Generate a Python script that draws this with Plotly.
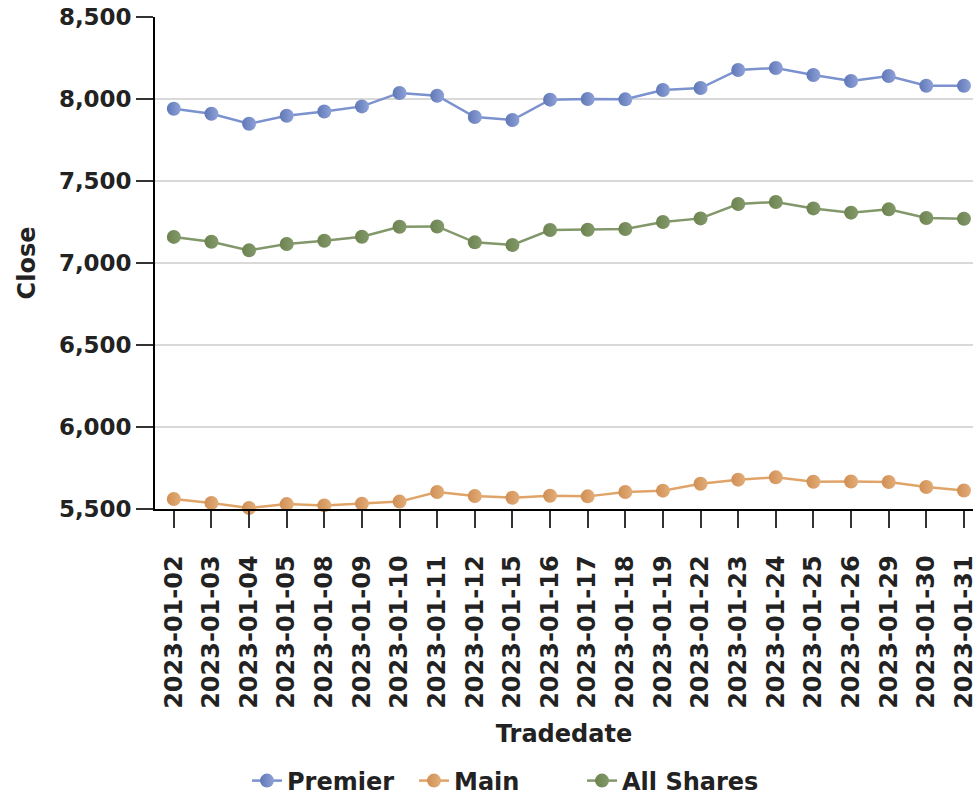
import plotly.graph_objects as go

dates = ["2023-01-02", "2023-01-03", "2023-01-04", "2023-01-05", "2023-01-08",
         "2023-01-09", "2023-01-10", "2023-01-11", "2023-01-12", "2023-01-15",
         "2023-01-16", "2023-01-17", "2023-01-18", "2023-01-19", "2023-01-22",
         "2023-01-23", "2023-01-24", "2023-01-25", "2023-01-26", "2023-01-29",
         "2023-01-30", "2023-01-31"]

premier = [7941, 7910, 7849, 7898, 7924, 7955, 8037, 8020, 7890, 7872, 7996,
           8000, 7998, 8055, 8067, 8177, 8189, 8146, 8110, 8140, 8081, 8081]
main = [5561, 5537, 5506, 5530, 5522, 5532, 5545, 5604, 5579, 5569, 5581,
        5577, 5604, 5612, 5654, 5679, 5693, 5666, 5668, 5665, 5634, 5613]
all_shares = [7159, 7130, 7077, 7116, 7136, 7160, 7221, 7223, 7126, 7110, 7201,
              7203, 7207, 7250, 7272, 7360, 7372, 7333, 7307, 7327, 7274, 7270]

y_ticks = [5500, 6000, 6500, 7000, 7500, 8000, 8500]
y_ticktext = ["5,500", "6,000", "6,500", "7,000", "7,500", "8,000", "8,500"]

series = [
    ("Premier", premier, "#7b92cf", "#6077b6", "#8ea2d8", "legend"),
    ("Main", main, "#e0a469", "#cf8f55", "#e3ad78", "legend2"),
    ("All Shares", all_shares, "#82976a", "#6c8350", "#83996a", "legend3"),
]

FONT = "DejaVu Sans"
TXT = "#222222"

fig = go.Figure()
for name, vals, lcol, mcol, gcol, leg in series:
    fig.add_trace(go.Scatter(
        x=dates, y=vals, name=name, mode="lines+markers",
        line=dict(color=lcol, width=2.5),
        marker=dict(size=14, color=mcol,
                    gradient=dict(type="horizontal", color=gcol)),
        cliponaxis=False, legend=leg,
    ))

W, H = 978, 799
leg_common = dict(orientation="h", xref="container", yref="container",
                  xanchor="left", y=1 - 781 / H, yanchor="middle",
                  font=dict(family=FONT, size=24, color=TXT, weight="bold"),
                  itemwidth=30, bgcolor="rgba(0,0,0,0)")

fig.update_layout(
    width=W, height=H,
    margin=dict(l=155, r=0, t=17, b=290),
    paper_bgcolor="white", plot_bgcolor="white",
    font=dict(family=FONT, size=24, color=TXT),
    showlegend=True,
    legend=dict(x=247 / W, **leg_common),
    legend2=dict(x=414 / W, **leg_common),
    legend3=dict(x=582 / W, **leg_common),
)

fig.update_xaxes(
    type="category", categoryorder="array", categoryarray=dates,
    range=[-0.5, 21.24],
    showline=True, linecolor="#000000", linewidth=1.5,
    ticks="outside", ticklen=17, tickcolor="#333333", tickwidth=1.5,
    tickangle=-90, ticklabelstandoff=18,
    tickfont=dict(family=FONT, size=24, color=TXT, weight="bold"),
    showgrid=False, zeroline=False,
    title=dict(text="Tradedate", standoff=17,
               font=dict(family=FONT, size=24, color=TXT, weight="bold")),
)

fig.update_yaxes(
    range=[5500, 8500], tickvals=y_ticks, ticktext=y_ticktext,
    showline=True, linecolor="#000000", linewidth=1.5,
    ticks="outside", ticklen=17, tickcolor="#333333", tickwidth=1.5,
    tickfont=dict(family=FONT, size=23, color=TXT, weight="bold"),
    showgrid=True, gridcolor="#d9d9d9", gridwidth=1.5,
    zeroline=False,
    title=dict(text="Close", standoff=16,
               font=dict(family=FONT, size=24, color=TXT, weight="bold")),
)

fig.write_html("out.html",
               config={"displayModeBar": False},
               post_script="document.body.style.margin='0';")
